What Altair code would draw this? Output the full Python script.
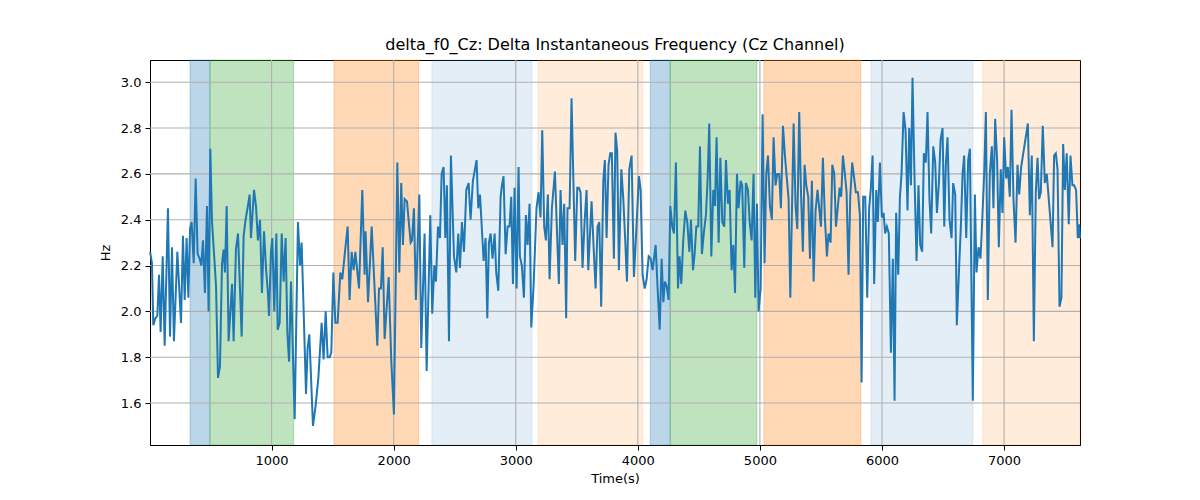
import altair as alt
import pandas as pd

# ---- line data (time in s, delta frequency in Hz) ----
time_s = [
    5, 20, 31, 48, 64, 78, 91, 108, 124, 151, 168, 184, 200, 228, 258, 274, 288, 304, 318, 332,
    345, 362, 378, 394, 411, 424, 438, 454, 471, 484, 498, 512, 531, 545, 561, 577, 594, 607, 618, 632,
    648, 676, 689, 708, 725, 755, 771, 787, 809, 820, 831, 856, 872, 888, 905, 921, 938, 954, 970,
    979, 995, 1006, 1022, 1039, 1050, 1066, 1083, 1099, 1115, 1129, 1143, 1159, 1189, 1216, 1233, 1246, 1260, 1282, 1295,
    1309, 1339, 1361, 1383, 1410, 1426, 1443, 1459, 1476, 1489, 1506, 1522, 1541, 1563, 1579, 1601, 1623, 1639, 1656, 1672,
    1686, 1716, 1743, 1762, 1770, 1790, 1820, 1866, 1880, 1896, 1910,
    1926, 1959, 1980, 2002, 2030, 2046, 2062, 2076, 2090, 2109, 2139, 2150, 2166, 2182, 2210, 2226, 2253, 2270, 2300, 2316,
    2333, 2346, 2363, 2379, 2393, 2409, 2423, 2436, 2453, 2469, 2494, 2513, 2529, 2543, 2559, 2576, 2595, 2614, 2630, 2649,
    2679, 2693, 2707, 2737, 2753, 2767, 2780, 2794, 2810, 2827, 2840, 2857, 2876, 2887,
    2900, 2917, 2933, 2949, 2963, 2977, 2990, 3007, 3023, 3034, 3050, 3067, 3083, 3097, 3113, 3127, 3146, 3170, 3187, 3203,
    3217, 3233, 3247, 3263, 3277, 3296, 3321, 3337, 3353, 3367, 3383, 3397, 3413, 3424, 3441, 3457, 3487, 3504, 3517, 3531,
    3547, 3564, 3580, 3594, 3621, 3637, 3654, 3670, 3684, 3700, 3717, 3730, 3744, 3760, 3774, 3787, 3804, 3817, 3831, 3845,
    3865, 3881, 3895, 3911, 3930, 3949, 3968, 3988, 4009, 4023, 4039, 4056, 4072, 4089, 4105, 4121, 4146, 4162, 4179, 4195,
    4209, 4222, 4236, 4252, 4266, 4282, 4296, 4312, 4329, 4342, 4356, 4372, 4389, 4405, 4422, 4435, 4452, 4465, 4479, 4495,
    4509, 4525, 4542, 4558, 4572, 4585, 4602, 4618, 4632, 4645, 4662, 4676, 4692, 4708, 4722, 4738, 4752, 4768, 4782, 4796, 4804,
    4812, 4825, 4842, 4855, 4872, 4885, 4902, 4916, 4932, 4948, 4962, 4976, 4989, 5006, 5022, 5038, 5052, 5066, 5082, 5098,
    5112, 5128, 5142, 5158, 5172, 5189, 5205, 5235, 5249, 5276, 5292, 5306, 5322, 5336, 5352, 5366, 5380, 5396, 5410, 5426,
    5440, 5456, 5472, 5486, 5500, 5516, 5532, 5549, 5562, 5579, 5593, 5609, 5623, 5639, 5653, 5666, 5680, 5696, 5710, 5726,
    5740, 5756,
    5786, 5803, 5819, 5833, 5846, 5863, 5879, 5895, 5909, 5923, 5936, 5953, 5966, 5983, 5999, 6013, 6026, 6040, 6056, 6073,
    6089, 6103, 6116, 6133, 6147, 6160, 6177, 6193, 6209, 6223, 6237, 6250, 6267, 6283, 6299, 6313, 6329, 6343, 6359, 6373,
    6389, 6403, 6420, 6436, 6450, 6466, 6480, 6496, 6510, 6523, 6537, 6553, 6570, 6583, 6600, 6613, 6630, 6646, 6660, 6673,
    6690, 6706, 6720,
    6744, 6761, 6774, 6791, 6807, 6821, 6837, 6851, 6867, 6883, 6900, 6913, 6927, 6943, 6957, 6973, 6987, 7001, 7017, 7031,
    7047, 7061, 7077, 7094, 7110, 7124, 7140, 7195, 7211, 7227, 7244, 7260, 7274, 7287, 7301, 7317, 7334, 7350, 7397, 7410,
    7424, 7438, 7454, 7470, 7484, 7498, 7513, 7530, 7544, 7560, 7574, 7590, 7604, 7615, 7622,
]

delta_hz = [
    2.26, 2.21, 1.94, 1.97, 1.98, 2.16, 1.91, 2.24, 1.85, 2.45, 1.89, 2.28, 1.87, 2.26, 1.95, 2.33, 2.05, 2.32, 2.06, 2.36,
    2.39, 2.21, 2.58, 2.25, 2.23, 2.20, 2.31, 2.08, 2.46, 2.00, 2.71, 2.39, 2.23, 2.11, 1.71, 1.76, 2.21, 2.27, 2.17, 2.46,
    1.87, 2.12, 1.87, 2.27, 2.34, 1.89, 2.33, 2.40, 2.47, 2.51, 2.32, 2.53, 2.46, 2.31, 2.40, 2.08, 2.35, 2.19, 2.08,
    1.98, 2.26, 2.32, 2.00, 2.34, 1.92, 1.95, 2.34, 2.13, 2.32, 1.91, 1.78, 2.13, 1.53, 2.39, 2.20, 2.30, 2.05, 1.64, 1.84,
    1.90, 1.50, 1.59, 1.71, 1.95, 1.79, 2.00, 1.80, 1.80, 1.82, 2.17, 1.95, 1.95, 2.17, 2.14, 2.26, 2.37, 2.05, 2.26, 2.18,
    2.26, 2.10, 2.53, 2.16, 2.35, 2.04, 2.37, 1.85, 2.10, 2.10, 2.28,
    1.88, 2.15, 1.79, 1.55, 2.65, 2.17, 2.56, 2.29, 2.49, 2.48, 2.30, 2.31, 2.45, 2.05, 2.51, 1.84, 2.34, 1.74, 2.42, 1.99,
    2.20, 2.13, 2.37, 2.32, 2.60, 2.63, 2.32, 2.55, 1.87, 2.68, 2.24, 2.17, 2.34, 2.19, 2.39, 2.26, 2.53, 2.56, 2.40, 2.57,
    2.66, 2.45, 2.51, 2.22, 2.32, 1.97, 2.30, 2.34, 2.23, 2.34, 2.17, 2.09, 2.50, 2.55,
    2.59, 2.25, 2.37, 2.37, 2.50, 2.12, 2.54, 2.10, 2.63, 2.24, 2.20, 2.06, 2.42, 2.29, 2.47, 1.93, 2.11, 2.45, 2.52, 2.41,
    2.79, 2.37, 2.31, 2.51, 2.14, 2.45, 2.61, 2.36, 2.12, 2.53, 2.29, 2.47, 1.97, 2.45, 2.45, 2.93, 2.22, 2.54, 2.54, 2.52,
    2.19, 2.39, 2.53, 2.18, 2.48, 2.29, 2.10, 2.37, 2.39, 2.02, 2.57, 2.66, 2.32, 2.64, 2.69, 2.69, 2.23, 2.78, 2.70, 2.18,
    2.62, 2.49, 2.33, 2.13, 2.62, 2.68, 2.15, 2.36, 2.59, 2.53, 2.16, 2.10, 2.14, 2.24, 2.23, 2.18, 2.29, 2.10, 1.92, 2.23,
    2.04, 2.13, 2.11, 2.05, 2.46, 2.37, 2.34, 2.65, 2.10, 2.24, 2.12, 2.31, 2.44, 2.39, 2.26, 2.40, 2.18, 2.25, 2.37, 2.37,
    2.72, 2.25, 2.35, 2.42, 2.58, 2.82, 2.24, 2.53, 2.46, 2.76, 2.30, 2.67, 2.39, 2.37, 2.66, 2.47, 2.53, 2.18, 2.29, 2.08, 2.34,
    2.60, 2.45, 2.57, 2.55, 2.19, 2.56, 2.53, 2.39, 2.31, 2.60, 2.06, 2.47, 2.00, 2.10, 2.86, 2.21, 2.60, 2.68, 2.46, 2.40,
    2.76, 2.55, 2.60, 2.60, 2.45, 2.81, 2.68, 2.49, 2.06, 2.82, 2.46, 2.36, 2.87, 2.53, 2.26, 2.64, 2.55, 2.50, 2.23, 2.57,
    2.13, 2.44, 2.53, 2.45, 2.37, 2.67, 2.41, 2.24, 2.34, 2.30, 2.64, 2.60, 2.37, 2.46, 2.54, 2.50, 2.68, 2.60, 2.52, 2.16,
    2.50, 2.65,
    2.52, 2.52, 2.42, 1.69, 2.50, 2.50, 2.06, 2.45, 2.54, 2.68, 2.12, 2.53, 2.39, 2.65, 2.41, 2.43, 2.34, 2.37, 2.34, 1.82,
    2.23, 1.61, 2.43, 2.16, 2.50, 2.60, 2.87, 2.79, 2.44, 2.80, 2.55, 3.02, 2.57, 2.22, 2.55, 2.29, 2.26, 2.69, 2.65, 2.87,
    2.49, 2.34, 2.72, 2.65, 2.43, 2.56, 2.75, 2.80, 2.37, 2.64, 2.76, 2.40, 2.32, 2.56, 2.51, 1.94, 2.17, 2.37, 2.60, 2.68,
    2.32, 2.66, 2.71,
    1.61, 2.51, 2.17, 2.28, 2.23, 2.40, 2.60, 2.87, 2.05, 2.60, 2.72, 2.45, 2.84, 2.66, 2.28, 2.62, 2.43, 2.76, 2.58, 2.63,
    2.50, 2.88, 2.49, 2.30, 2.64, 2.51, 2.63, 2.82, 2.42, 2.68, 1.87, 2.52, 2.67, 2.49, 2.52, 2.81, 2.56, 2.60, 2.28, 2.68,
    2.69, 2.62, 2.02, 2.06, 2.73, 2.53, 2.69, 2.38, 2.68, 2.55, 2.55, 2.53, 2.32, 2.38, 2.32,
]

# ---- shaded segments ----
span_start = [332, 495, 1511, 2313, 3182, 4102, 4265, 5033, 5909, 6826]
span_end = [495, 1181, 2205, 3133, 4039, 4265, 4975, 5827, 6744, 7622]
span_color = ["#1f77b4", "#2ca02c", "#ff7f0e", "#1f77b4", "#ff7f0e",
              "#1f77b4", "#2ca02c", "#ff7f0e", "#1f77b4", "#ff7f0e"]
span_alpha = [0.3, 0.3, 0.3, 0.12, 0.15, 0.3, 0.3, 0.3, 0.12, 0.15]

x_ticks = [1000, 2000, 3000, 4000, 5000, 6000, 7000]
y_ticks = [1.6, 1.8, 2.0, 2.2, 2.4, 2.6, 2.8, 3.0]

line_df = pd.DataFrame({"t": time_s, "v": delta_hz})
span_df = pd.DataFrame({"start": span_start, "end": span_end,
                        "color": span_color, "alpha": span_alpha})
xgrid_df = pd.DataFrame({"t": x_ticks})
ygrid_df = pd.DataFrame({"v": y_ticks})

W, H = 930, 385
x_scale = alt.Scale(domain=[4, 7622], nice=False, zero=False)
y_scale = alt.Scale(domain=[1.417, 3.097], nice=False, zero=False)

spans = alt.Chart(span_df).mark_rect(strokeWidth=1).encode(
    x=alt.X("start:Q", scale=x_scale),
    x2="end:Q",
    y=alt.value(0),
    y2=alt.value(H),
    fill=alt.Fill("color:N", scale=None),
    stroke=alt.Stroke("color:N", scale=None),
    fillOpacity=alt.FillOpacity("alpha:Q", scale=None),
    strokeOpacity=alt.StrokeOpacity("alpha:Q", scale=None),
)

# grid drawn above the shaded spans but below the line (as in matplotlib)
xgrid = alt.Chart(xgrid_df).mark_rule(color="#b0b0b0", strokeWidth=1.1).encode(
    x=alt.X("t:Q", scale=x_scale), y=alt.value(0), y2=alt.value(H),
)
ygrid = alt.Chart(ygrid_df).mark_rule(color="#b0b0b0", strokeWidth=1.1).encode(
    y=alt.Y("v:Q", scale=y_scale), x=alt.value(0), x2=alt.value(W),
)

line = alt.Chart(line_df).mark_line(color="#1f77b4", strokeWidth=2).encode(
    x=alt.X("t:Q", scale=x_scale,
            axis=alt.Axis(values=x_ticks, format="d", title="Time(s)", grid=False)),
    y=alt.Y("v:Q", scale=y_scale,
            axis=alt.Axis(values=y_ticks, format=".1f", title="Hz", grid=False)),
)

chart = alt.layer(spans, xgrid, ygrid, line).properties(
    width=W,
    height=H,
    autosize=alt.AutoSizeParams(type="none"),
    padding={"left": 142, "top": 52, "right": 112, "bottom": 47},
    title=alt.TitleParams(
        "delta_f0_Cz: Delta Instantaneous Frequency (Cz Channel)",
        font="DejaVu Sans", fontSize=16, fontWeight="normal", color="black",
        anchor="middle", offset=6,
    ),
).configure_view(
    stroke="black", strokeWidth=1
).configure_axis(
    domainColor="black", domainWidth=1,
    tickColor="black", tickSize=5, tickWidth=1,
    labelFont="DejaVu Sans", labelFontSize=13, labelColor="black", labelPadding=4,
    titleFont="DejaVu Sans", titleFontSize=13, titleFontWeight="normal", titleColor="black",
).configure_axisX(
    titlePadding=5, labelFlush=False,
).configure_axisY(
    titlePadding=8, labelFlush=False,
)

chart.save("out.html", embed_options={"renderer": "svg", "actions": False})
